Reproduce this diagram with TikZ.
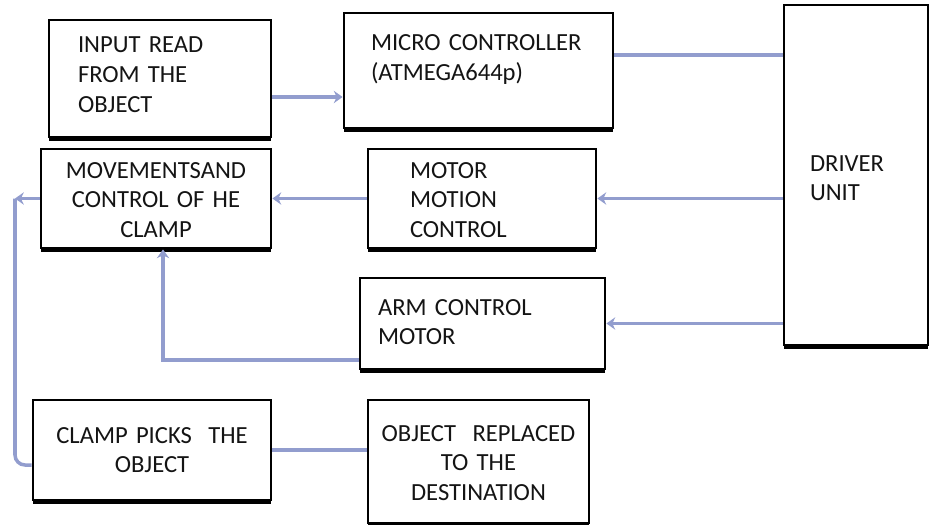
\documentclass[tikz,border=0pt]{standalone}
\usepackage{fontspec}
\setmainfont{Carlito}
\usepackage{tikz}
\usetikzlibrary{arrows.meta,calc,shadows}
\definecolor{linkblue}{RGB}{146,157,206}
\definecolor{inkblack}{RGB}{20,20,20}
\tikzset{
  base/.style={font=\fontsize{14}{17}\selectfont, text=inkblack, inner ysep=0pt},
  box/.style={base, rectangle, draw=black, fill=white, line width=1.6pt,
    drop shadow={shadow xshift=0pt, shadow yshift=-2.4pt, fill=black, opacity=1}},
  lbox/.style={box, align=left},
  cbox/.style={box, align=center, inner xsep=0.16cm},
  link/.style={line width=2pt, draw=linkblue},
  arr/.style={link, -{Stealth[length=5pt,width=7pt]}},
}
\begin{document}
\begin{tikzpicture}
  \useasboundingbox (0,0) rectangle (18.6,-10.48);
  \node[lbox, inner xsep=0.58cm, text width=3.28cm, text height=0.66cm, text depth=1.68cm] (input) at (3.20,-1.57) {INPUT READ\\FROM THE\\OBJECT};
  \node[lbox, inner xsep=0.54cm, text width=4.30cm, text height=0.76cm, text depth=1.54cm] (micro) at (9.57,-1.41) {MICRO CONTROLLER\\(ATMEGA644p)};
  \node[lbox, inner xsep=0.52cm, text width=1.84cm, text height=3.32cm, text depth=3.48cm] (driver) at (17.12,-3.50) {DRIVER\\UNIT};
  \node[cbox, text width=4.28cm, text height=0.58cm, text depth=1.40cm] (movements) at (3.12,-3.97) {MOVEMENTSAND\\CONTROL OF HE\\CLAMP};
  \node[lbox, inner xsep=0.84cm, text width=2.88cm, text height=0.58cm, text depth=1.40cm] (motor) at (9.64,-3.97) {MOTOR\\MOTION\\CONTROL};
  \node[lbox, inner xsep=0.36cm, text width=4.18cm, text height=0.74cm, text depth=1.08cm] (arm) at (9.65,-6.47) {ARM CONTROL\\MOTOR};
  \node[cbox, text width=4.44cm, text height=0.86cm, text depth=1.14cm] (clamp) at (3.04,-9.00) {CLAMP PICKS\ \ THE\\OBJECT};
  \node[cbox, text width=4.10cm, text height=0.82cm, text depth=1.64cm] (object) at (9.57,-9.23) {OBJECT\ \ REPLACED\\TO THE\\DESTINATION};
  \coordinate (turn) at (0.30,-3.97);

  \draw[arr] ([yshift=-0.37cm]input.east) -- ([yshift=-0.37cm]input.east -| micro.west);
  \draw[link] ([yshift=0.31cm]micro.east) -- ([yshift=0.31cm]micro.east -| driver.west);
  \draw[arr] (driver.west |- motor.east) -- (motor.east);
  \draw[arr] (motor.west) -- (movements.east);
  \draw[arr] (movements.west) -- (turn);
  \draw[link, rounded corners=0.2cm] ([yshift=-0.3cm]clamp.west) -| (turn);
  \draw[arr] (driver.west |- arm.east) -- (arm.east);
  \draw[arr] ([yshift=-0.73cm]arm.west) -| ([xshift=0.14cm]movements.south);
  \draw[link] (clamp.east) -- (clamp.east -| object.west);
\end{tikzpicture}
\end{document}
